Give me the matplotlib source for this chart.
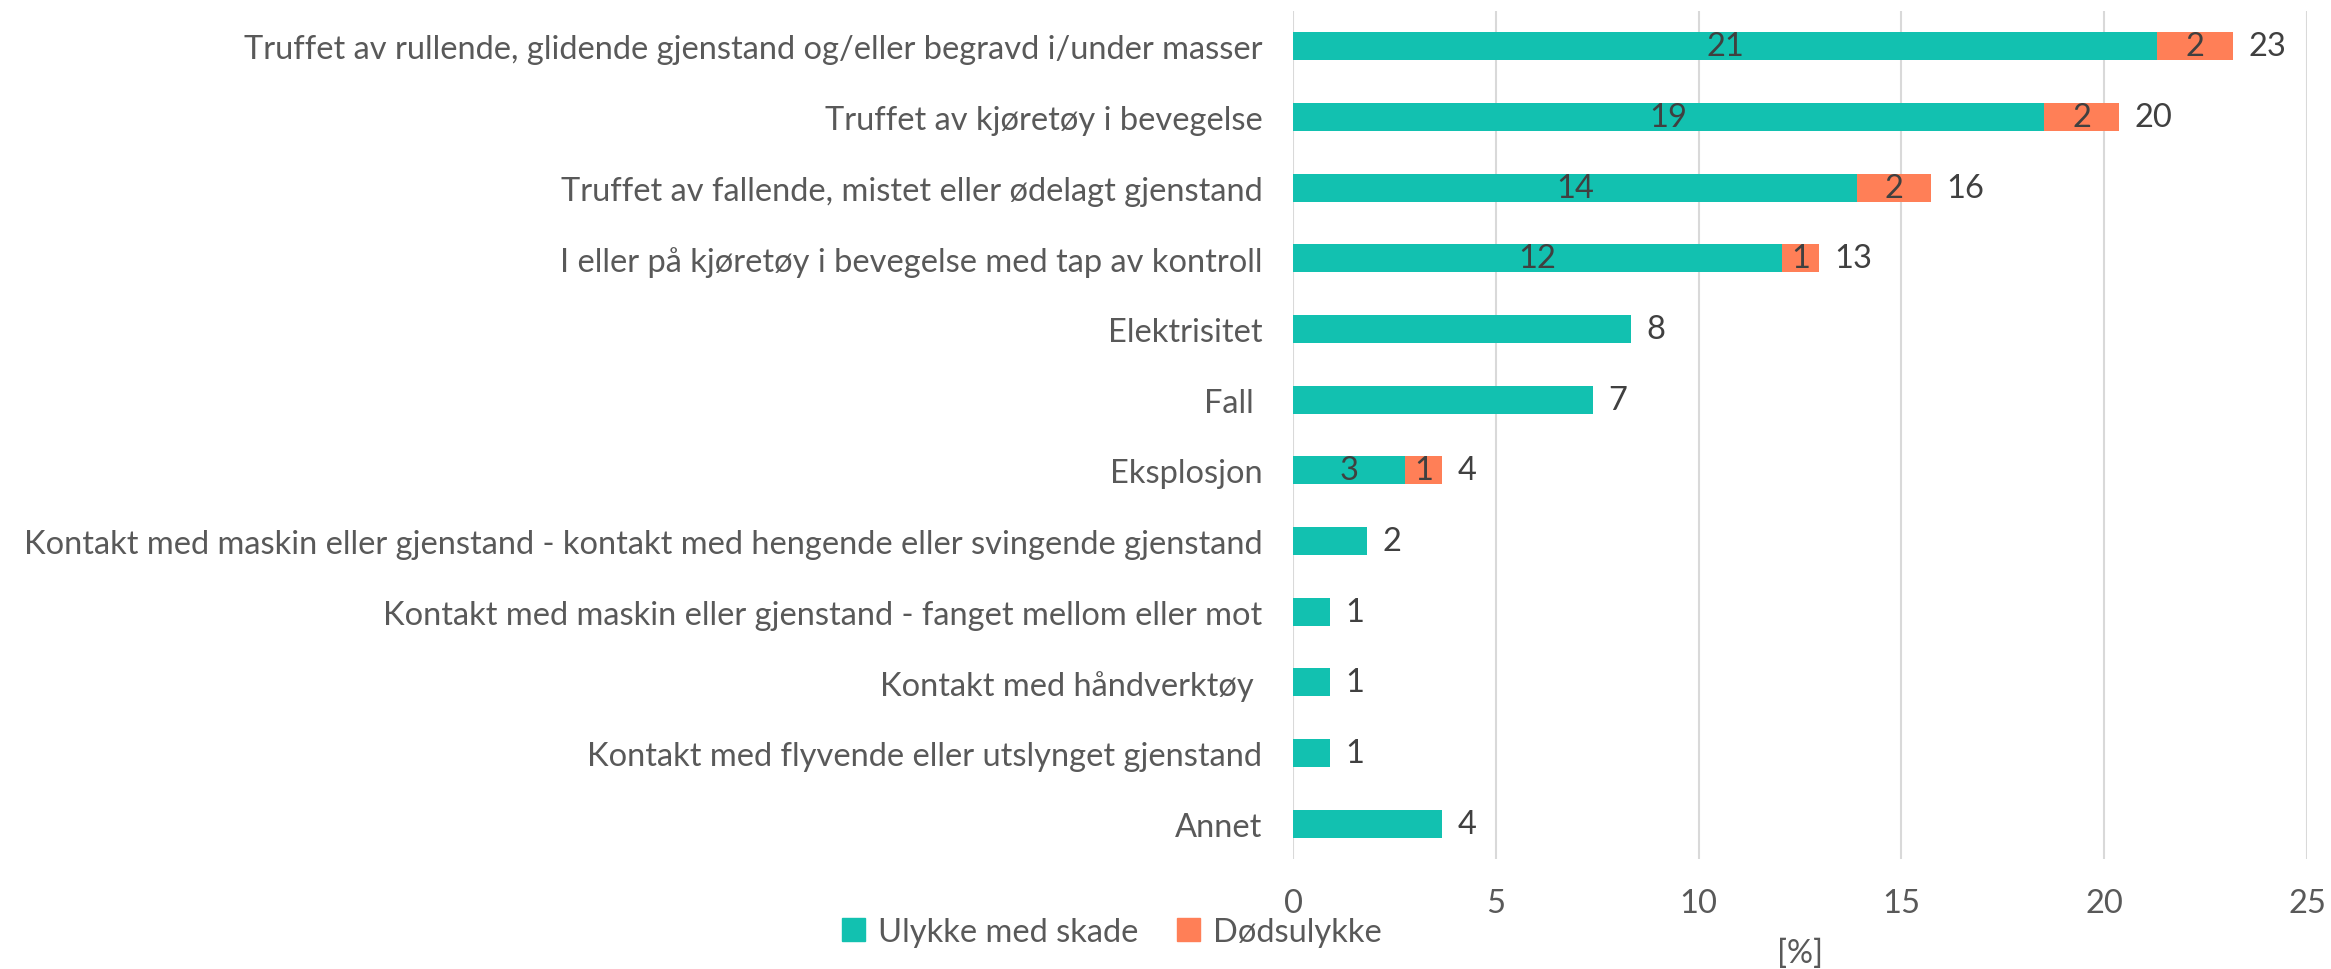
import numpy as np
import matplotlib.pyplot as plt
from matplotlib.patches import Patch

# data (percent)
categories = [
    "Truffet av rullende, glidende gjenstand og/eller begravd i/under masser",
    "Truffet av kjøretøy i bevegelse",
    "Truffet av fallende, mistet eller ødelagt gjenstand",
    "I eller på kjøretøy i bevegelse med tap av kontroll",
    "Elektrisitet",
    "Fall ",
    "Eksplosjon",
    "Kontakt med maskin eller gjenstand - kontakt med hengende eller svingende gjenstand",
    "Kontakt med maskin eller gjenstand - fanget mellom eller mot",
    "Kontakt med håndverktøy ",
    "Kontakt med flyvende eller utslynget gjenstand",
    "Annet",
]
skade = [21.3, 18.52, 13.9, 12.05, 8.33, 7.4, 2.75, 1.83, 0.9, 0.9, 0.9, 3.68]
dod = [1.87, 1.85, 1.82, 0.93, 0, 0, 0.93, 0, 0, 0, 0, 0]
series_names = ["Ulykke med skade", "Dødsulykke"]

TEAL = "#12C1B0"
ORANGE = "#FF7F57"
LABEL_COL = "#595959"
DATA_COL = "#404040"

plt.rcParams['font.family'] = ['Lato', 'DejaVu Sans']

fig = plt.figure(figsize=(23.31, 9.70), dpi=100)
ax = fig.add_axes([0.5547, 0.1134, 0.4350, 0.8742])

y = np.arange(len(categories))
skade = np.array(skade)
dod = np.array(dod)
total = skade + dod

b1 = ax.barh(y, skade, height=0.4, color=TEAL, zorder=3)
b2 = ax.barh(y, dod, left=skade, height=0.4, color=ORANGE, zorder=3)

fs = 23.5
inner1 = [f"{v:.0f}" if d > 0 else "" for v, d in zip(skade, dod)]
inner2 = [f"{d:.0f}" if d > 0 else "" for d in dod]
ax.bar_label(b1, labels=inner1, label_type='center', fontsize=fs, color=DATA_COL)
ax.bar_label(b2, labels=inner2, label_type='center', fontsize=fs, color=DATA_COL)
ax.bar_label(b2, labels=[f"{t:.0f}" for t in total], padding=11, fontsize=fs, color=DATA_COL)

ax.set_xlim(0, 25)
ax.set_ylim(len(categories) - 0.5, -0.5)
ax.set_xticks([0, 5, 10, 15, 20, 25])
ax.set_yticks(y)
ax.set_yticklabels(categories)
ax.tick_params(axis='y', length=0, pad=22, labelsize=fs, labelcolor=LABEL_COL)
ax.tick_params(axis='x', length=0, pad=21, labelsize=fs, labelcolor=LABEL_COL)
ax.grid(axis='x', color='#D9D9D9', linewidth=1.5, zorder=0)
for s in ['top', 'right', 'bottom', 'left']:
    ax.spines[s].set_visible(False)

handles = [Patch(color=TEAL), Patch(color=ORANGE)]
fig.legend(handles, series_names, loc='center', bbox_to_anchor=(0.477, 0.038),
           ncol=2, frameon=False, fontsize=fs, labelcolor=LABEL_COL,
           handlelength=0.7, handleheight=0.7, handletextpad=0.4, columnspacing=1.2)
fig.text(1800 / 2331, 1 - 954 / 970, "[%]", ha='center', va='center',
         fontsize=fs, color=LABEL_COL)

fig.savefig("out.png", dpi=100)
